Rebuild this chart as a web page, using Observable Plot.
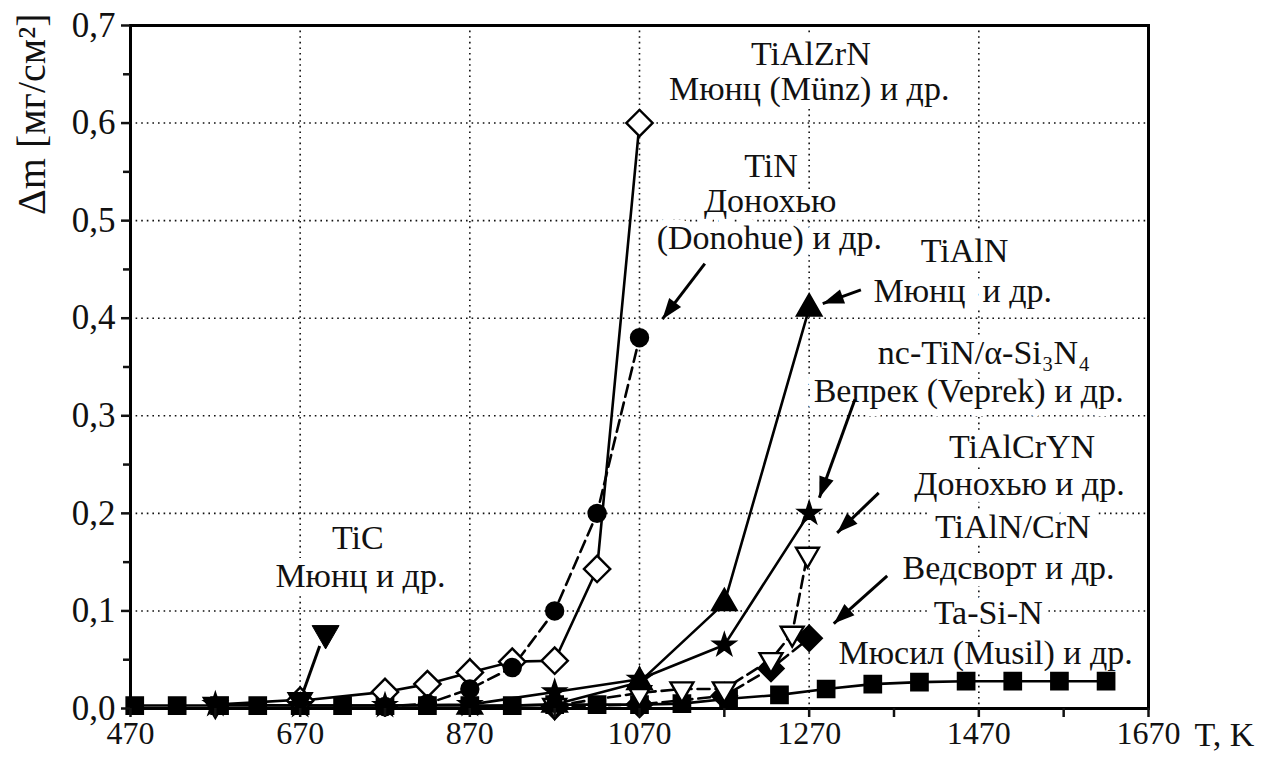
<!DOCTYPE html>
<html>
<head>
<meta charset="utf-8">
<script src="https://cdn.jsdelivr.net/npm/d3@7"></script>
<script src="https://cdn.jsdelivr.net/npm/@observablehq/plot@0.6"></script>
<style>
  html, body { margin: 0; padding: 0; background: #fff; }
  svg text { font-family: "Liberation Serif", "DejaVu Serif", serif; }
</style>
</head>
<body>
<div id="chart"></div>
<script>
// Oxidation mass gain Δm (mg/cm²) of hard coatings vs. annealing temperature T (K)

// Axis ticks
const xMajorTicks = [470, 670, 870, 1070, 1270, 1470, 1670];
const xMinorTicks = [570, 770, 970, 1170, 1370, 1570];
const yMajorTicks = [0, 0.1, 0.2, 0.3, 0.4, 0.5, 0.6, 0.7];
const yMinorTicks = [0.05, 0.15, 0.25, 0.35, 0.45, 0.55, 0.65];
const xGridTicks = [670, 870, 1070, 1270, 1470];
const yGridTicks = [0.1, 0.2, 0.3, 0.4, 0.5, 0.6];

// Series: temperature (K) and mass gain (mg/cm²)
const tTaSiN   = [475, 525, 575, 620, 670, 720, 770, 820, 870, 920, 970, 1020, 1070, 1120, 1175, 1235, 1290, 1345, 1400, 1455, 1510, 1565, 1620];
const dmTaSiN  = [0.003, 0.003, 0.003, 0.003, 0.003, 0.003, 0.003, 0.003, 0.003, 0.003, 0.004, 0.004, 0.004, 0.005, 0.01, 0.014, 0.02, 0.025, 0.027, 0.028, 0.028, 0.028, 0.028];

const tTiAlZrN  = [670, 770, 820, 870, 920, 970, 1020, 1070];
const dmTiAlZrN = [0.008, 0.017, 0.025, 0.037, 0.048, 0.049, 0.143, 0.6];

const tTiC  = [570, 670];
const dmTiC = [0.004, 0.009];

const tTiN  = [770, 820, 870, 920, 970, 1020, 1070];
const dmTiN = [0.002, 0.005, 0.02, 0.042, 0.1, 0.2, 0.38];

const tNcTiN  = [570, 670, 770, 870, 970, 1070, 1170, 1270];
const dmNcTiN = [0.004, 0.003, 0.003, 0.004, 0.017, 0.03, 0.065, 0.2];

const tTiAlN  = [870, 970, 1070, 1170, 1270];
const dmTiAlN = [0.002, 0.004, 0.027, 0.108, 0.41];

const tTiAlCrYN  = [970, 1070, 1120, 1170, 1225, 1250, 1268];
const dmTiAlCrYN = [0.003, 0.016, 0.02, 0.02, 0.05, 0.077, 0.158];

const tTiAlNCrN  = [970, 1070, 1170, 1225, 1270];
const dmTiAlNCrN = [0.002, 0.004, 0.013, 0.041, 0.072];

// Annotation text lines (anchored at T, Δm)
const labelText = [
  "TiAlZrN", "Мюнц (Münz) и др.",
  "TiN", "Донохью", "(Donohue) и др.",
  "TiAlN", "Мюнц  и др.",
  "nc-TiN/α-Si₃N₄", "Вепрек (Veprek) и др.",
  "TiAlCrYN", "Донохью и др.",
  "TiAlN/CrN", "Ведсворт и др.",
  "Ta-Si-N", "Мюсил (Musil) и др.",
  "TiC", "Мюнц и др."
];
const labelT  = [1272, 1270, 1225, 1224, 1223, 1453, 1451, 1476, 1458, 1521, 1518, 1510, 1505, 1481, 1478, 738, 741];
const labelDm = [0.671, 0.635, 0.556, 0.520, 0.482, 0.469, 0.428, 0.364, 0.325, 0.268, 0.230, 0.186, 0.144, 0.098, 0.057, 0.175, 0.136];

// Pointer arrows from labels to curves (tail → tip)
const arrowT1  = [1147, 1331, 1324, 1352, 1362];
const arrowDm1 = [0.456, 0.429, 0.317, 0.221, 0.136];
const arrowT2  = [1097, 1286, 1282, 1303, 1299];
const arrowDm2 = [0.399, 0.415, 0.216, 0.180, 0.087];

// TiC marker key with its pointer
const keyTiC = {t: 700, dm: 0.077, t1: 693, dm1: 0.064, t2: 674, dm2: 0.018};

const W = 1272, H = 762;
const M = {top: 25, right: 124, bottom: 54, left: 130};
const xDomain = [470, 1670], yDomain = [0, 0.7];
const kx = (W - M.left - M.right) / (xDomain[1] - xDomain[0]);
const ky = (H - M.top - M.bottom) / (yDomain[1] - yDomain[0]);

const rows = (t, dm) => t.map((v, i) => ({t: v, dm: dm[i]}));

const series = [
  {t: tTaSiN, dm: dmTaSiN, symbol: "square", rotate: 0, fill: "black", r: 9.2, dash: null},
  {t: tTiAlZrN, dm: dmTiAlZrN, symbol: "square", rotate: 45, fill: "white", r: 10.5, dash: null},
  {t: tTiC, dm: dmTiC, symbol: "triangle", rotate: 180, fill: "black", r: 8.5, dash: null},
  {t: tTiN, dm: dmTiN, symbol: "circle", rotate: 0, fill: "black", r: 8.5, dash: "12,6"},
  {t: tTiAlNCrN, dm: dmTiAlNCrN, symbol: "square", rotate: 45, fill: "black", r: 10, dash: "12,6"},
  {t: tTiAlCrYN, dm: dmTiAlCrYN, symbol: "triangle", rotate: 180, fill: "white", r: 8.5, dash: "12,6"},
  {t: tTiAlN, dm: dmTiAlN, symbol: "triangle", rotate: 0, fill: "black", r: 9, dash: null},
  {t: tNcTiN, dm: dmNcTiN, symbol: "star", rotate: 0, fill: "black", r: 6.5, dash: null}
];

// Filled arrowhead whose tip sits at the origin, pointing up
const arrowHead = {
  draw(ctx) {
    ctx.moveTo(0, 0);
    ctx.lineTo(-7.5, 21);
    ctx.lineTo(7.5, 21);
    ctx.closePath();
  }
};

const arrows = arrowT1.map((t1, i) => {
  const dx = (arrowT2[i] - t1) * kx;
  const dy = -(arrowDm2[i] - arrowDm1[i]) * ky;
  return {t1, dm1: arrowDm1[i], t2: arrowT2[i], dm2: arrowDm2[i],
          angle: Math.atan2(dx, -dy) * 180 / Math.PI};
});

const labels = labelText.map((s, i) => ({text: s, t: labelT[i], dm: labelDm[i]}));

const font = "Liberation Serif";
const fmtY = d => d.toFixed(1).replace(".", ",");

const marks = [
  Plot.gridY(yGridTicks, {stroke: "#111", strokeOpacity: 1, strokeWidth: 1.6, strokeDasharray: "1.6,4"}),
  Plot.gridX(xGridTicks, {stroke: "#111", strokeOpacity: 1, strokeWidth: 1.6, strokeDasharray: "1.6,4"}),
  // label text with white backing over the grid
  Plot.text(labels, {x: "t", y: "dm", text: "text", fontSize: 34, fontFamily: font, fill: "#111",
    stroke: "white", strokeWidth: 14, lineAnchor: "middle"})
];

for (const s of series) {
  const data = rows(s.t, s.dm);
  marks.push(Plot.line(data, {x: "t", y: "dm", stroke: "black", strokeWidth: 2.6,
    strokeDasharray: s.dash ?? undefined}));
}
for (const s of series) {
  const data = rows(s.t, s.dm);
  marks.push(Plot.dot(data, {x: "t", y: "dm", symbol: s.symbol, r: s.r, rotate: s.rotate,
    fill: s.fill, stroke: "black", strokeWidth: 2.4}));
}

marks.push(
  Plot.link(arrows, {x1: "t1", y1: "dm1", x2: "t2", y2: "dm2", stroke: "black", strokeWidth: 3}),
  Plot.dot(arrows, {x: "t2", y: "dm2", symbol: arrowHead, rotate: "angle", r: 10, fill: "black", stroke: "none"}),
  Plot.link([keyTiC], {x1: "t1", y1: "dm1", x2: "t2", y2: "dm2", stroke: "black", strokeWidth: 3}),
  Plot.dot([keyTiC], {x: "t", y: "dm", symbol: "triangle", rotate: 180, r: 10, fill: "black", stroke: "black", strokeWidth: 1}),
  Plot.frame({stroke: "black", strokeWidth: 3}),
  Plot.axisX(xMajorTicks, {tickSize: 9, tickPadding: 4, tickFormat: d => String(d), fontSize: 32, fontFamily: font, strokeWidth: 2.5, label: null}),
  Plot.axisX(xMinorTicks, {tickSize: 9, tickFormat: () => "", strokeWidth: 2.5, label: null}),
  Plot.axisY(yMajorTicks, {tickSize: 9, tickPadding: 6, tickFormat: fmtY, fontSize: 35, fontFamily: font, strokeWidth: 2.5, label: null}),
  Plot.axisY(yMinorTicks, {tickSize: 7, tickFormat: () => "", strokeWidth: 2.5, label: null}),
  Plot.text(["T, K"], {frameAnchor: "bottom-right", textAnchor: "start", lineAnchor: "top", dx: 46, dy: 13, fontSize: 34, fontFamily: font, fill: "#111"}),
  Plot.text(["Δm [мг/см²]"], {frameAnchor: "top-left", rotate: -90, textAnchor: "end", lineAnchor: "middle", dx: -98, dy: -12, fontSize: 40, fontFamily: font, fill: "#111"})
);

const chart = Plot.plot({
  width: W,
  height: H,
  marginTop: M.top,
  marginRight: M.right,
  marginBottom: M.bottom,
  marginLeft: M.left,
  x: {domain: xDomain},
  y: {domain: yDomain},
  style: {fontFamily: font, background: "white", color: "#111", overflow: "visible"},
  marks
});

document.getElementById("chart").appendChild(chart);
</script>
</body>
</html>
